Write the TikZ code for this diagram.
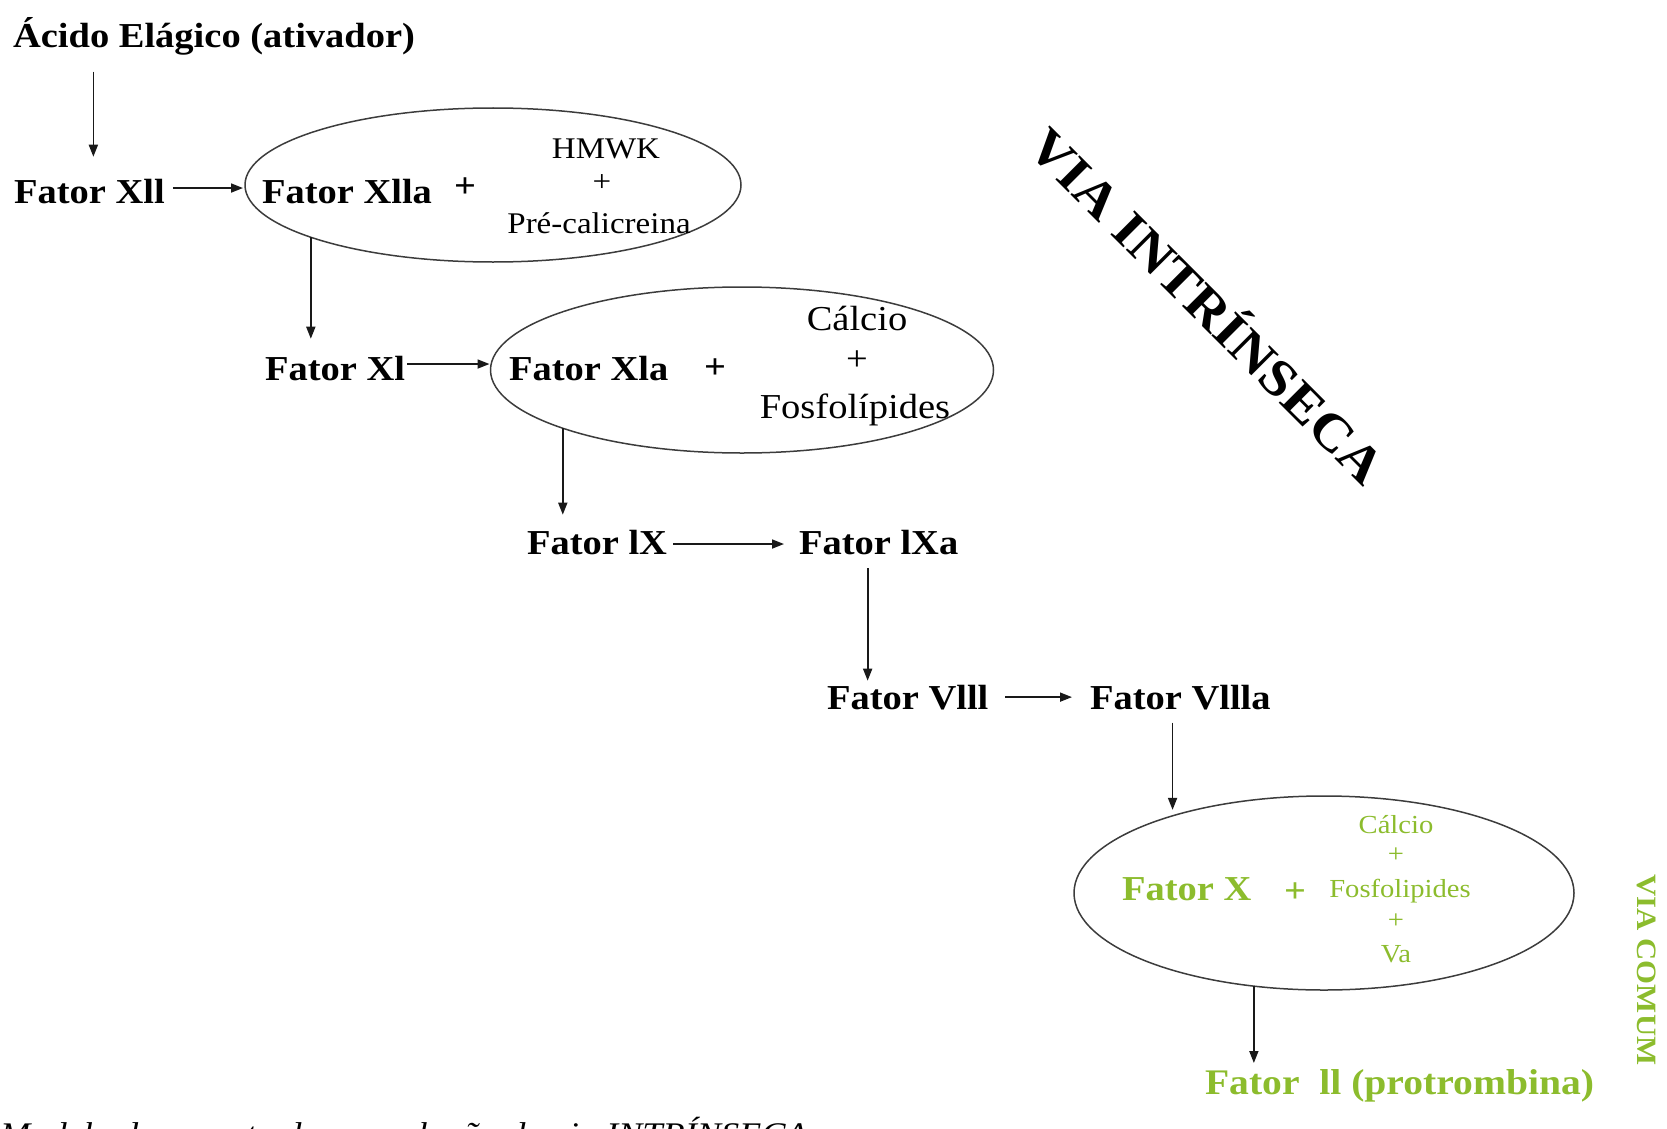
\documentclass[tikz,border=0pt]{standalone}
\usepackage{fontspec}
\setmainfont{Liberation Serif}[FakeStretch=1.1]
\usetikzlibrary{shapes.geometric,arrows.meta,calc}
\definecolor{vgreen}{RGB}{140,188,45}
\definecolor{arrowc}{RGB}{25,25,25}
\definecolor{ellc}{RGB}{60,60,60}
\newcommand\myfs[1]{\fontsize{#1}{#1}\selectfont}
\begin{document}
\begin{tikzpicture}[x=1pt,y=-1pt,
  lbl/.style={inner sep=0pt,outer sep=0pt,anchor=base west,font=\myfs{35}\bfseries},
  glbl/.style={lbl,text=vgreen},
  smalltxt/.style={inner sep=0pt,outer sep=0pt,anchor=base,font=\myfs{#1}},
  plustxt/.style={inner sep=0pt,outer sep=0pt,font=\myfs{#1}},
  oval/.style={ellipse,draw=ellc,line width=1.5pt,inner sep=0pt,outer sep=0pt},
  arr/.style={draw=arrowc,line width=1.7pt,-{Triangle[length=12pt,width=9pt]}}]
\useasboundingbox (0,0) rectangle (1667,1129);

% labels
\node[lbl] (acido) at (13,48) {Ácido Elágico (ativador)};
\node[lbl] (xll) at (14,203) {Fator Xll};
\node[oval,minimum width=496pt,minimum height=154pt] (e1) at (493,185) {};
\node[lbl] (xlla) at (262,203) {Fator Xlla};
\node[plustxt=35,font=\myfs{35}\bfseries] (p1) at (465,188) {+};
\node[smalltxt=30,anchor=center] (hmwk) at (606,149) {HMWK};
\node[plustxt=30] (pl1) at (602,183) {+};
\node[smalltxt=30] (prec) at (599,233) {Pré-calicreina};

\node[lbl] (xl) at (265,380) {Fator Xl};
\node[oval,minimum width=503pt,minimum height=166pt] (e2) at (742,370) {};
\node[lbl] (xla) at (509,380) {Fator Xla};
\node[plustxt=35,font=\myfs{35}\bfseries] (p2) at (715,369) {+};
\node[smalltxt=35] (calc1) at (857,330) {Cálcio};
\node[plustxt=35] (pl2) at (857,361) {+};
\node[smalltxt=35] (fosf1) at (855,418) {Fosfolípides};

\node[lbl] (lx) at (527,554) {Fator lX};
\node[lbl] (lxa) at (799,554) {Fator lXa};
\node[lbl] (v8) at (827,709) {Fator Vlll};
\node[lbl] (v8a) at (1090,709) {Fator Vllla};

\node[oval,minimum width=500pt,minimum height=194pt] (e3) at (1324,893) {};
\node[glbl] (fx) at (1122,900) {Fator X};
\node[plustxt=35,font=\myfs{35}\bfseries,text=vgreen] (p3) at (1295,893) {+};
\node[smalltxt=26,text=vgreen] (calc2) at (1396,833) {Cálcio};
\node[plustxt=26,text=vgreen] (pl3) at (1396,855) {+};
\node[smalltxt=26,text=vgreen] (fosf2) at (1400,897) {Fosfolipides};
\node[plustxt=26,text=vgreen] (pl4) at (1396,921) {+};
\node[smalltxt=26,text=vgreen] (va) at (1396,962) {Va};
\node[glbl,font=\myfs{36}\bfseries] (fii) at (1205,1094) {Fator\ \ ll (protrombina)};

\node[inner sep=0pt,rotate=-45,font=\myfs{52}\bfseries] (via) at (1210,303) {VIA INTRÍNSECA};
\node[inner sep=0pt,rotate=-90,font=\myfs{28}\bfseries,text=vgreen] (comum) at (1647,970) {VIA COMUM};
\node[inner sep=0pt,anchor=base west,font=\myfs{33}\itshape] (cap) at (0,1145) {Modelo de cascata da coagulação da via INTRÍNSECA};

% connectors
\draw[arr] ($(acido.south -| xll.north)+(4,16)$) -- ($(xll.north)+(4,-22)$);
\draw[arr] ($(xll.east)+(8,-3)$) -- ($(e1.west |- xll.east)+(-2,-3)$);
\draw[arr] (e1.196) -- ($(e1.196 |- xl.north)+(0,-17)$);
\draw[arr] ($(xl.east)+(2,-4)$) -- ($(e2.west |- xl.east)+(-1,-4)$);
\draw[arr] (e2.198) -- ($(e2.198 |- lx.north)+(0,-15)$);
\draw[arr] ($(lx.east)+(6,2)$) -- ($(lxa.west |- lx.east)+(-15,2)$);
\draw[arr] ($(lxa.south)+(-11,14)$) -- ($(lxa.south |- v8.north)+(-11,-4)$);
\draw[arr] ($(v8.east)+(17,0)$) -- ($(v8a.west |- v8.east)+(-18,0)$);
\draw[arr] ($(e3.153 |- v8a.south)+(0,13)$) -- ($(e3.153)+(0,-6)$);
\draw[arr] (e3.233) -- ($(e3.233 |- fii.north)+(0,-6)$);
\end{tikzpicture}
\end{document}
